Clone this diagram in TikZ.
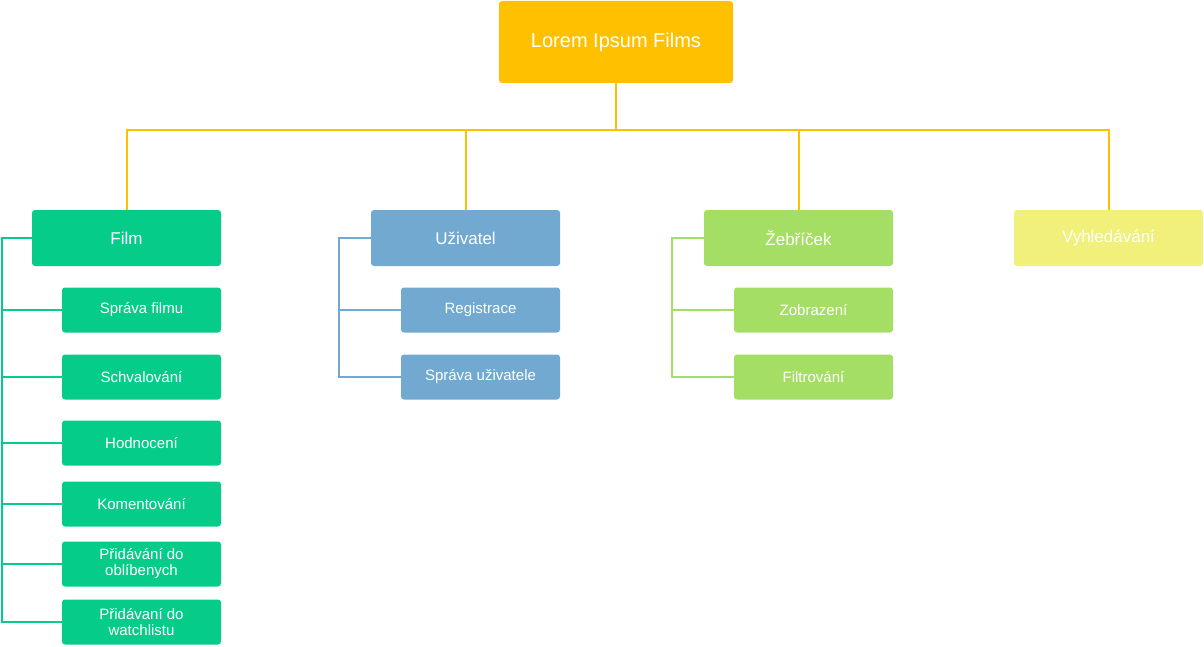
\documentclass[tikz,border=0pt]{standalone}
\usepackage{fontspec}
\setmainfont{Liberation Sans}
\definecolor{cTop}{HTML}{FFC000}
\definecolor{cFilm}{HTML}{06CC8A}
\definecolor{cUser}{HTML}{72A9D0}
\definecolor{cRank}{HTML}{A5DE64}
\definecolor{cSearch}{HTML}{F0F07A}
\begin{document}
\begin{tikzpicture}[x=1pt,y=-1pt,
  box/.style={rounded corners=3pt, inner sep=0pt, text=white, align=center},
  topbox/.style={box, fill=cTop, minimum width=234pt, minimum height=82pt, font=\fontsize{20}{23}\selectfont},
  mainbox/.style={box, minimum width=189pt, minimum height=56pt, font=\fontsize{17}{20}\selectfont},
  subbox/.style={box, minimum width=159pt, minimum height=45pt, font=\fontsize{15}{16}\selectfont},
  trunk/.style={draw=cTop, line width=2pt},
  br/.style={line width=2pt}
]
\useasboundingbox (0,0) rectangle (1204,647);
% top
\node[topbox] (top) at (616,42) {Lorem Ipsum Films};
% main boxes
\node[mainbox, fill=cFilm] (film) at (126.5,238) {Film};
\node[mainbox, fill=cUser] (user) at (465.5,238) {Uživatel};
\node[mainbox, fill=cRank] (rank) at (798.5,238) {Žebříček};
\node[mainbox, fill=cSearch] (search) at (1108.5,238) {Vyhledávání};
% film children
\node[subbox, fill=cFilm] (f1) at (141.5,310) {Správa filmu};
\node[subbox, fill=cFilm] (f2) at (141.5,377) {Schvalování};
\node[subbox, fill=cFilm] (f3) at (141.5,443) {Hodnocení};
\node[subbox, fill=cFilm] (f4) at (141.5,504) {Komentování};
\node[subbox, fill=cFilm] (f5) at (141.5,564) {Přidávání do\\oblíbenych};
\node[subbox, fill=cFilm] (f6) at (141.5,622) {Přidávaní do\\watchlistu};
% user children
\node[subbox, fill=cUser] (u1) at (480.5,310) {Registrace};
\node[subbox, fill=cUser] (u2) at (480.5,377) {Správa uživatele};
% rank children
\node[subbox, fill=cRank] (r1) at (813.5,310) {Zobrazení};
\node[subbox, fill=cRank] (r2) at (813.5,377) {Filtrování};
% trunk
\coordinate (bus) at (616,130);
\draw[trunk] (top.south) -- (bus);
\draw[trunk] (film.north) |- (bus) -| (search.north);
\draw[trunk] (user.north) -- (user.north |- bus);
\draw[trunk] (rank.north) -- (rank.north |- bus);
% brackets
\coordinate (fx) at (2,0);
\draw[br, draw=cFilm] (film.west) -- (fx |- film.west) -- (fx |- f6.west) -- (f6.west);
\foreach \n in {f1,f2,f3,f4,f5} \draw[br, draw=cFilm] (fx |- \n.west) -- (\n.west);
\coordinate (ux) at (339,0);
\draw[br, draw=cUser] (user.west) -- (ux |- user.west) -- (ux |- u2.west) -- (u2.west);
\draw[br, draw=cUser] (ux |- u1.west) -- (u1.west);
\coordinate (rx) at (672,0);
\draw[br, draw=cRank] (rank.west) -- (rx |- rank.west) -- (rx |- r2.west) -- (r2.west);
\draw[br, draw=cRank] (rx |- r1.west) -- (r1.west);
\end{tikzpicture}
\end{document}
